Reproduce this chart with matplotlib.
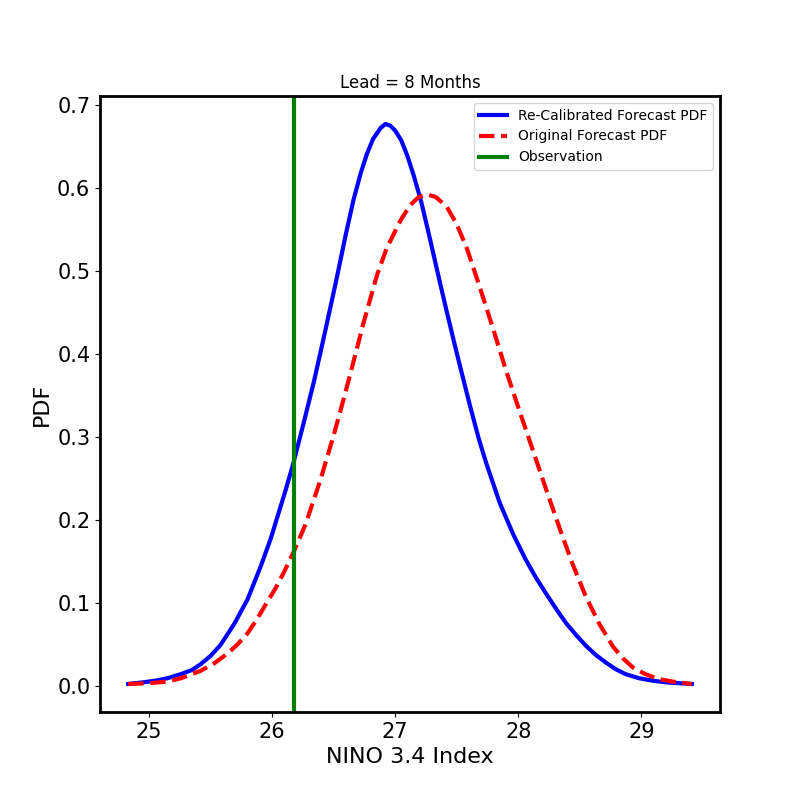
import matplotlib
matplotlib.use("Agg")
import matplotlib.pyplot as plt

blue_x = [24.83, 24.95, 25.05, 25.15, 25.26, 25.35, 25.42, 25.50, 25.58, 25.69,
          25.80, 25.91, 25.99, 26.05, 26.11, 26.17, 26.26, 26.34, 26.42, 26.52,
          26.60, 26.66, 26.72, 26.77, 26.82, 26.88, 26.92, 26.96, 27.00, 27.05,
          27.10, 27.15, 27.21, 27.28, 27.36, 27.42, 27.48, 27.53, 27.61, 27.68,
          27.74, 27.85, 27.96, 28.06, 28.14, 28.23, 28.31, 28.39, 28.47, 28.55,
          28.63, 28.71, 28.79, 28.87, 28.98, 29.09, 29.20, 29.30, 29.41]
blue_y = [0.002, 0.004, 0.006, 0.009, 0.014, 0.019, 0.026, 0.036, 0.049, 0.074,
          0.104, 0.145, 0.178, 0.207, 0.236, 0.267, 0.319, 0.367, 0.420, 0.488,
          0.545, 0.585, 0.618, 0.641, 0.659, 0.672, 0.677, 0.675, 0.669, 0.657,
          0.638, 0.615, 0.584, 0.540, 0.488, 0.450, 0.413, 0.383, 0.336, 0.297,
          0.268, 0.220, 0.182, 0.152, 0.131, 0.110, 0.092, 0.075, 0.061, 0.048,
          0.037, 0.028, 0.020, 0.014, 0.009, 0.006, 0.004, 0.003, 0.002]

red_x = [24.83, 25.00, 25.15, 25.26, 25.42, 25.53, 25.64, 25.72, 25.80, 25.88,
         25.96, 26.03, 26.10, 26.18, 26.27, 26.39, 26.50, 26.58, 26.66, 26.74,
         26.85, 26.93, 27.04, 27.12, 27.19, 27.26, 27.33, 27.42, 27.50, 27.58,
         27.67, 27.80, 27.90, 28.01, 28.12, 28.23, 28.34, 28.44, 28.55, 28.66,
         28.77, 28.85, 28.93, 29.03, 29.14, 29.25, 29.41]
red_y = [0.002, 0.003, 0.005, 0.009, 0.018, 0.027, 0.039, 0.050, 0.063, 0.081,
         0.101, 0.118, 0.138, 0.163, 0.194, 0.247, 0.302, 0.345, 0.390, 0.436,
         0.494, 0.527, 0.560, 0.579, 0.589, 0.592, 0.589, 0.577, 0.556, 0.528,
         0.488, 0.428, 0.380, 0.331, 0.283, 0.235, 0.188, 0.147, 0.107, 0.074,
         0.047, 0.033, 0.022, 0.014, 0.008, 0.005, 0.002]

observation = 26.18

fig = plt.figure(figsize=(8, 8), dpi=100)
ax = fig.add_subplot(111)
ax.plot(blue_x, blue_y, color="blue", lw=3, label="Re-Calibrated Forecast PDF")
ax.plot(red_x, red_y, color="red", lw=3, ls="--", label="Original Forecast PDF")
ax.axvline(observation, color="green", lw=3, label="Observation")
ax.set_title("Lead = 8 Months", fontsize=12)
ax.set_xlabel("NINO 3.4 Index", fontsize=16)
ax.set_ylabel("PDF", fontsize=16)
ax.tick_params(labelsize=15)
for s in ax.spines.values():
    s.set_linewidth(2)
ax.legend(loc="upper right", fontsize=10)
fig.savefig("out.png", dpi=100)
